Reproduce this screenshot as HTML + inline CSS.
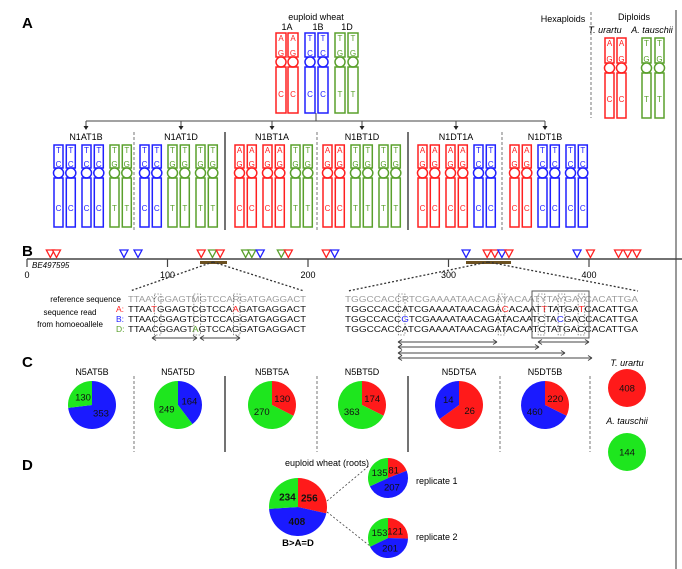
<!DOCTYPE html>
<html><head><meta charset="utf-8"><style>
html,body{margin:0;padding:0;background:#fff}
svg{display:block;font-family:"Liberation Sans",sans-serif}
</style></head><body>
<svg id="fig" width="682" height="569" viewBox="0 0 682 569" xmlns="http://www.w3.org/2000/svg">
<g id="g"></g>
</svg>
<script>
// ---- data ----
var triPos = [16.6,21,69,79,124,132,137.5,155.6,160,166,181,186,213,219,312.5,327.5,333,338,343,391.5,401,421,427.5,434];
var triCol = ['A','A','B','B','A','D','A','D','D','B','D','A','A','B','B','A','A','B','A','B','A','A','A','A'];
var axisTicks = [0,100,200,300,400];
var pieNamesC = ['N5AT5B','N5AT5D','N5BT5A','N5BT5D','N5DT5A','N5DT5B'];
var pieValsC = [[353,130],[164,249],[130,270],[174,363],[26,14],[220,460]];
var pieColsC = [['B','D'],['B','D'],['A','D'],['A','D'],['A','B'],['A','B']];
var diploidVals = [408,144];
var euploidVals = [256,408,234];
var rep1Vals = [81,207,135];
var rep2Vals = [121,201,153];
var groupNames = ['N1AT1B','N1AT1D','N1BT1A','N1BT1D','N1DT1A','N1DT1B'];
var groupGenomes = [['B','B','D'],['B','D','D'],['A','A','D'],['A','D','D'],['A','A','B'],['A','B','B']];

var NS='http://www.w3.org/2000/svg', G=document.getElementById('g');
var PIE={A:'#ff1a1a',B:'#1a1aff',D:'#1ee61e'};
var CHR={A:'#ff2020',B:'#2020ff',D:'#5aa02c'};
var LET={A:['A','G','C'],B:['T','C','C'],D:['T','G','T']};
function el(t,a,p){var e=document.createElementNS(NS,t);for(var k in a)e.setAttribute(k,a[k]);(p||G).appendChild(e);return e;}
function txt(x,y,s,a,p){a=a||{};a.x=x;a.y=y;var e=el('text',a,p);e.textContent=s;return e;}

// panel labels
[['A',22,28],['B',22,256],['C',22,367],['D',22,470]].forEach(function(l){
  var t=txt(l[1],l[2],l[0],{'font-size':15,'font-weight':'bold'});
  
  
});
// right border
el('line',{x1:676,y1:10,x2:676,y2:569,stroke:'#333','stroke-width':1});

function chrom(x,top,cy,bot,w,g,name){
  var c=CHR[g],gr=el('g',{});
  
  
  el('rect',{x:x,y:top,width:w,height:cy-5-top,fill:'none',stroke:c,'stroke-width':1.5},gr);
  el('circle',{cx:x+w/2,cy:cy,r:5,fill:'#fff',stroke:c,'stroke-width':1.5},gr);
  el('rect',{x:x,y:cy+5,width:w,height:bot-cy-5,fill:'none',stroke:c,'stroke-width':1.5},gr);
  var L=LET[g],fs=8;
  txt(x+w/2,top+8,L[0],{'font-size':fs,fill:c,'text-anchor':'middle'},gr);
  txt(x+w/2,cy-6,L[1],{'font-size':fs,fill:c,'text-anchor':'middle'},gr);
  txt(x+w/2,bot-16,L[2],{'font-size':fs,fill:c,'text-anchor':'middle'},gr);
}
// panel A top
txt(316,20,'euploid wheat',{'font-size':9,'text-anchor':'middle',});
[['1A',287],['1B',318],['1D',347]].forEach(function(a){txt(a[1],30,a[0],{'font-size':9,'text-anchor':'middle'});});
[[276,'A'],[288,'A'],[305,'B'],[318,'B'],[335,'D'],[348,'D']].forEach(function(c,i){chrom(c[0],33,62,113,10,c[1],'euploid-chromosome-'+i);});
// tree
el('line',{x1:316,y1:113,x2:316,y2:121,stroke:'#444','stroke-width':1});
el('line',{x1:86,y1:121,x2:545,y2:121,stroke:'#444','stroke-width':1});
var gx=[86,181,272,362,456,545];
gx.forEach(function(x){el('line',{x1:x,y1:121,x2:x,y2:127,stroke:'#444'});el('path',{d:'M'+(x-2.5)+' 126 L'+(x+2.5)+' 126 L'+x+' 130 Z',fill:'#222'});});
var gStart=[54,140,235,323,418,510];
groupNames.forEach(function(n,i){
  var t=txt(gx[i],140,n,{'font-size':9,'text-anchor':'middle'});
  
  
  groupGenomes[i].forEach(function(g,p){
    for(var k=0;k<2;k++) chrom(gStart[i]+p*28+k*12.3,145,173,227,9,g,'chromosome-'+n.toLowerCase()+'-'+p+k);
  });
});
[[134,1],[317,1],[502,1],[225,0],[408,0]].forEach(function(s){
  el('line',{x1:s[0],y1:132,x2:s[0],y2:230,stroke:s[1]?'#555':'#444','stroke-width':s[1]?0.8:1.5,'stroke-dasharray':s[1]?'3,2':'none'});
});
// diploids
el('line',{x1:591,y1:12,x2:591,y2:118,stroke:'#555','stroke-width':0.8,'stroke-dasharray':'3,2'});
txt(563,22,'Hexaploids',{'font-size':9,'text-anchor':'middle'});
txt(634,20,'Diploids',{'font-size':9,'text-anchor':'middle'});
txt(605,33,'T. urartu',{'font-size':9,'font-style':'italic','text-anchor':'middle'});
txt(652,33,'A. tauschii',{'font-size':9,'font-style':'italic','text-anchor':'middle'});
[[605,'A'],[617,'A'],[642,'D'],[655,'D']].forEach(function(c,i){chrom(c[0],38,68,118,9,c[1],'diploid-chromosome-'+i);});

// panel B axis
function xB(v){return 27+v*1.405;}
el('line',{x1:27,y1:259,x2:682,y2:259,stroke:'#444','stroke-width':1.5});
axisTicks.forEach(function(v){
  el('line',{x1:xB(v),y1:259,x2:xB(v),y2:267,stroke:'#444','stroke-width':1.2});
  txt(xB(v),278,String(v),{'font-size':9,'text-anchor':'middle'});
});
txt(32,268,'BE497595',{'font-size':8,'font-style':'italic'});
triPos.forEach(function(p,i){
  var x=xB(p),c=CHR[triCol[i]];
  var t=el('path',{d:'M'+(x-4)+' 250 L'+(x+4)+' 250 L'+x+' 257.5 Z',fill:'#fff',stroke:c,'stroke-width':1.3});
  
  
});
el('rect',{x:200,y:261,width:27,height:3,fill:'#6b5020'});
el('rect',{x:466,y:261,width:45,height:3,fill:'#6b5020'});
[[213,262,130,291],[213,262,304,291],[488,262,348,291],[488,262,638,291]].forEach(function(l){
  el('line',{x1:l[0],y1:l[1],x2:l[2],y2:l[3],stroke:'#333','stroke-width':1.3,'stroke-dasharray':'2,2'});
});
txt(121,302,'reference sequence',{'font-size':8,'text-anchor':'end'});
txt(70,315,'sequence read',{'font-size':8,'text-anchor':'middle'});
txt(70,327,'from homoeoallele',{'font-size':8,'text-anchor':'middle'});
txt(116,312,'A:',{'font-size':8.5,fill:'#ff2020'});
txt(116,322,'B:',{'font-size':8.5,fill:'#2020ff'});
txt(116,332,'D:',{'font-size':8.5,fill:'#5aa02c'});
function seq(x,y,w,s,hl,fill,name){
  var t=el('text',{x:x,y:y,'font-size':8.5,fill:fill,textLength:w,lengthAdjust:'spacingAndGlyphs'});
  
  
  for(var i=0;i<s.length;i++){var sp=el('tspan',{},t);if(hl[i])sp.setAttribute('fill',hl[i]);sp.textContent=s[i];}
}
var R='#ff2020',Bc='#2020ff',Dc='#5aa02c';
seq(128,302,178,'TTAAYGGAGTMGTCCARGATGAGGACT',{},'#999','left-reference-sequence');
seq(128,312,178,'TTAATGGAGTCGTCCAAGATGAGGACT',{4:R,16:R},'#111','left-a-sequence');
seq(128,322,178,'TTAACGGAGTCGTCCAGGATGAGGACT',{},'#111','left-b-sequence');
seq(128,332,178,'TTAACGGAGTAGTCCAGGATGAGGACT',{10:Dc},'#111','left-d-sequence');
seq(345,302,293,'TGGCCACCRTCGAAAATAACAGAYACAATYTAYGAYCACATTGA',{},'#999','right-reference-sequence');
seq(345,312,293,'TGGCCACCATCGAAAATAACAGACACAATTTATGATCACATTGA',{23:R,29:R,35:R},'#111','right-a-sequence');
seq(345,322,293,'TGGCCACCGTCGAAAATAACAGATACAATCTACGACCACATTGA',{8:Bc,32:Bc},'#111','right-b-sequence');
seq(345,332,293,'TGGCCACCATCGAAAATAACAGATACAATCTATGACCACATTGA',{},'#111','right-d-sequence');
[4,10,16].forEach(function(i){el('rect',{x:128+i*6.59,y:294,width:6.6,height:41,fill:'none',stroke:'#444','stroke-width':0.6,'stroke-dasharray':'1.5,1.5'});});
[8,23,29,32,35].forEach(function(i){el('rect',{x:345+i*6.66,y:294,width:6.7,height:41,fill:'none',stroke:'#444','stroke-width':0.6,'stroke-dasharray':'1.5,1.5'});});
el('rect',{x:532,y:291,width:57,height:47,fill:'none',stroke:'#555','stroke-width':1});
function darrow(x1,x2,y){
  el('line',{x1:x1,y1:y,x2:x2,y2:y,stroke:'#444','stroke-width':1});
  el('path',{d:'M'+x1+' '+y+' l4 -2.5 M'+x1+' '+y+' l4 2.5 M'+x2+' '+y+' l-4 -2.5 M'+x2+' '+y+' l-4 2.5',stroke:'#444','stroke-width':1,fill:'none'});
}
darrow(152,197,338);darrow(200,240,338);
darrow(398,497,342);darrow(538,589,342);darrow(398,539,347);darrow(398,565,353);darrow(398,592,358);

// pies
function pie(cx,cy,r,vals,cols,name,bold){
  var tot=vals.reduce(function(a,b){return a+b;},0),a0=-Math.PI/2,gr=el('g',{});
  
  
  vals.forEach(function(v,i){
    var a1=a0+v/tot*2*Math.PI,c=PIE[cols[i]];
    if(vals.length===1){el('circle',{cx:cx,cy:cy,r:r,fill:c},gr);}
    else{
      var large=(a1-a0)>Math.PI?1:0;
      var s=el('path',{d:'M'+cx+' '+cy+' L'+(cx+r*Math.cos(a0))+' '+(cy+r*Math.sin(a0))+' A'+r+' '+r+' 0 '+large+' 1 '+(cx+r*Math.cos(a1))+' '+(cy+r*Math.sin(a1))+' Z',fill:c},gr);
      
      
    }
    var am=(a0+a1)/2,d=vals.length===1?0:r*0.5;
    txt(cx+d*Math.cos(am),cy+d*Math.sin(am)+3.5,String(v),{'font-size':bold?10:9.5,'font-weight':bold?'bold':'normal','text-anchor':'middle',fill:'#111'},gr);
    a0=a1;
  });
}
var pcx=[92,178,272,362,459,545];
pieNamesC.forEach(function(n,i){
  txt(pcx[i],375,n,{'font-size':9,'text-anchor':'middle'});
  pie(pcx[i],405,24,pieValsC[i],pieColsC[i],'pie-'+n.toLowerCase());
});
[[134,1],[317,1],[500,1],[590,1],[225,0],[408,0]].forEach(function(s){
  el('line',{x1:s[0],y1:376,x2:s[0],y2:452,stroke:s[1]?'#555':'#444','stroke-width':s[1]?0.8:1.5,'stroke-dasharray':s[1]?'3,2':'none'});
});
txt(627,366,'T. urartu',{'font-size':9,'font-style':'italic','text-anchor':'middle'});
pie(627,388,19,[diploidVals[0]],['A'],'pie-t-urartu');
txt(627,424,'A. tauschii',{'font-size':9,'font-style':'italic','text-anchor':'middle'});
pie(627,452,19,[diploidVals[1]],['D'],'pie-a-tauschii');

// panel D
txt(327,466,'euploid wheat (roots)',{'font-size':9,'text-anchor':'middle'});
pie(298,507,29,euploidVals,['A','B','D'],'pie-euploid-roots',true);
txt(298,546,'B>A=D',{'font-size':9.5,'font-weight':'bold','text-anchor':'middle'});
el('line',{x1:327,y1:501,x2:370,y2:465,stroke:'#444','stroke-width':0.8,'stroke-dasharray':'2,2'});
el('line',{x1:327,y1:512,x2:370,y2:546,stroke:'#444','stroke-width':0.8,'stroke-dasharray':'2,2'});
pie(388,478,20,rep1Vals,['A','B','D'],'pie-replicate-1');
pie(388,538,20,rep2Vals,['A','B','D'],'pie-replicate-2');
txt(416,484,'replicate 1',{'font-size':9});
txt(416,540,'replicate 2',{'font-size':9});
</script>
</body></html>
